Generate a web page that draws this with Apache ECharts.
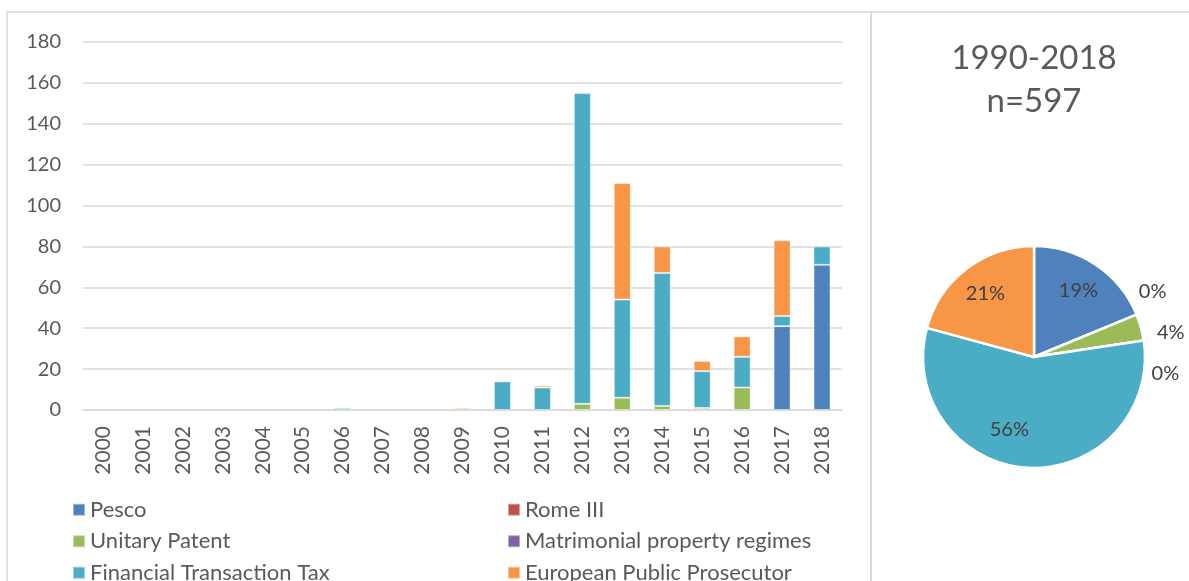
<!DOCTYPE html>
<html>
<head>
<meta charset="utf-8">
<script src="https://cdn.jsdelivr.net/npm/echarts@6/dist/echarts.min.js"></script>
<style>
html,body{margin:0;padding:0;background:#fff;}
#chart{width:1189px;height:581px;}
</style>
</head>
<body>
<div id="chart"></div>
<script>
const years = ['2000','2001','2002','2003','2004','2005','2006','2007','2008','2009','2010','2011','2012','2013','2014','2015','2016','2017','2018'];
const seriesNames = ['Pesco','Rome III','Unitary Patent','Matrimonial property regimes','Financial Transaction Tax','European Public Prosecutor'];
const pesco       = [0,0,0,0,0,0,0,0,0,0,0,0,0,0,0,0,0,41,71];
const romeIII     = [0,0,0,0,0,0,0,0,0,0,0,0,0,0,0,0,0,0,0];
const unitary     = [0,0,0,0,0,0,0,0,0,0,0,0,3,6,2,1,11,0,0];
const matrimonial = [0,0,0,0,0,0,0,0,0,0,0,0,0,0,0,0,0,0,0];
const ftt         = [0,0,0,0,0,0,1,0,0,0,14,11,152,48,65,18,15,5,9];
const epp         = [0,0,0,0,0,0,0,0,0,1,0,1,0,57,13,5,10,37,0];
const yTicks = [0,20,40,60,80,100,120,140,160,180];
const pieTitle = '1990-2018\nn=597';
const pieValues = [112,0,23,0,338,124];
const colors = ['#4f81bd','#c0504d','#9bbb59','#8064a2','#4bacc6','#f79646'];

const barData = [pesco, romeIII, unitary, matrimonial, ftt, epp];
const FONT = 'Lato, "Open Sans", sans-serif';
const total = pieValues.reduce((a,b)=>a+b,0);

const chart = echarts.init(document.getElementById('chart'), null, {renderer:'canvas'});

const barSeries = seriesNames.map((n,i)=>({
  name: n, type: 'bar', stack: 'all',
  barWidth: 17,
  itemStyle: {color: colors[i], borderColor: 'rgba(255,255,255,0.45)', borderWidth: 1},
  data: barData[i].map(v => v === 0 ? '-' : v),
  emphasis: {disabled: true}
}));

const pieVisible = {
  type: 'pie', name: 'pieShares', center: [1034, 357], radius: 111,
  startAngle: 90, clockwise: true, percentPrecision: 0,
  avoidLabelOverlap: true, stillShowZeroSum: true,
  itemStyle: {borderColor: '#fff', borderWidth: 2.5},
  emphasis: {disabled: true},
  labelLine: {show: false, length: 10, length2: 2},
  labelLayout: p => ({hideOverlap: false, dy: -19, dx: p.dataIndex === 1 ? -12 : 0}),
  data: pieValues.map((v,i)=>({
    name: seriesNames[i], value: v,
    itemStyle: {color: colors[i]},
    label: {show: v/total < 0.1, position: 'outside', alignTo: 'none', overflow: 'none',
      formatter: '{d}%', color: '#404040', fontSize: 20, lineHeight: 39, fontFamily: FONT, distanceToLabelLine: 3}
  }))
};
const pieLabels = {
  type: 'pie', name: 'pieLabels', center: [1034, 357], radius: 154,
  startAngle: 90, clockwise: true, percentPrecision: 0, silent: true,
  itemStyle: {color: 'rgba(0,0,0,0)'},
  emphasis: {disabled: true},
  labelLine: {show: false},
  labelLayout: p => (p.dataIndex === 4 ? {dx: -20, dy: -7} : {}),
  data: pieValues.map((v,i)=>({
    name: seriesNames[i] + ' ', value: v,
    label: {show: v/total >= 0.1, position: 'inside', formatter: '{d}%', color: '#404040', fontSize: 20, fontFamily: FONT}
  }))
};

chart.setOption({
  animation: false,
  color: colors,
  textStyle: {fontFamily: FONT},
  graphic: [
    {type:'rect', shape:{x:7, y:12, width:864, height:620}, style:{fill:'none', stroke:'#d9d9d9', lineWidth:1.5}, silent:true, z:-1},
    {type:'rect', shape:{x:871, y:12, width:400, height:620}, style:{fill:'none', stroke:'#d9d9d9', lineWidth:1.5}, silent:true, z:-1}
  ],
  title: {
    text: pieTitle, left: 1034, top: 37, textAlign: 'center', padding: 0,
    textStyle: {fontFamily: FONT, fontSize: 33, fontWeight: 'normal', color: '#595959', lineHeight: 43}
  },
  legend: {
    data: seriesNames, left: 72, top: 494, width: 900, padding: 0,
    itemGap: 0, itemWidth: 12, itemHeight: 12, icon: 'rect',
    textStyle: {fontFamily: FONT, fontSize: 22, color: '#595959', width: 417, lineHeight: 31.5, overflow: 'none'},
    selectedMode: false
  },
  grid: {left: 83, right: 347, top: 42, bottom: 171, containLabel: false},
  xAxis: {
    type: 'category', data: years,
    axisLine: {show: true, lineStyle: {color: '#d9d9d9', width: 1.5}},
    axisTick: {show: false},
    axisLabel: {rotate: 90, margin: 16, color: '#595959', fontSize: 21, fontFamily: FONT}
  },
  yAxis: {
    type: 'value', min: 0, max: 180, interval: 20,
    axisLine: {show: false}, axisTick: {show: false},
    axisLabel: {margin: 22, color: '#595959', fontSize: 20, fontFamily: FONT,
      formatter: v => yTicks.includes(v) ? String(v) : ''},
    splitLine: {lineStyle: {color: '#d9d9d9', width: 1.5}}
  },
  series: [...barSeries, pieVisible, pieLabels]
});
</script>
</body>
</html>
